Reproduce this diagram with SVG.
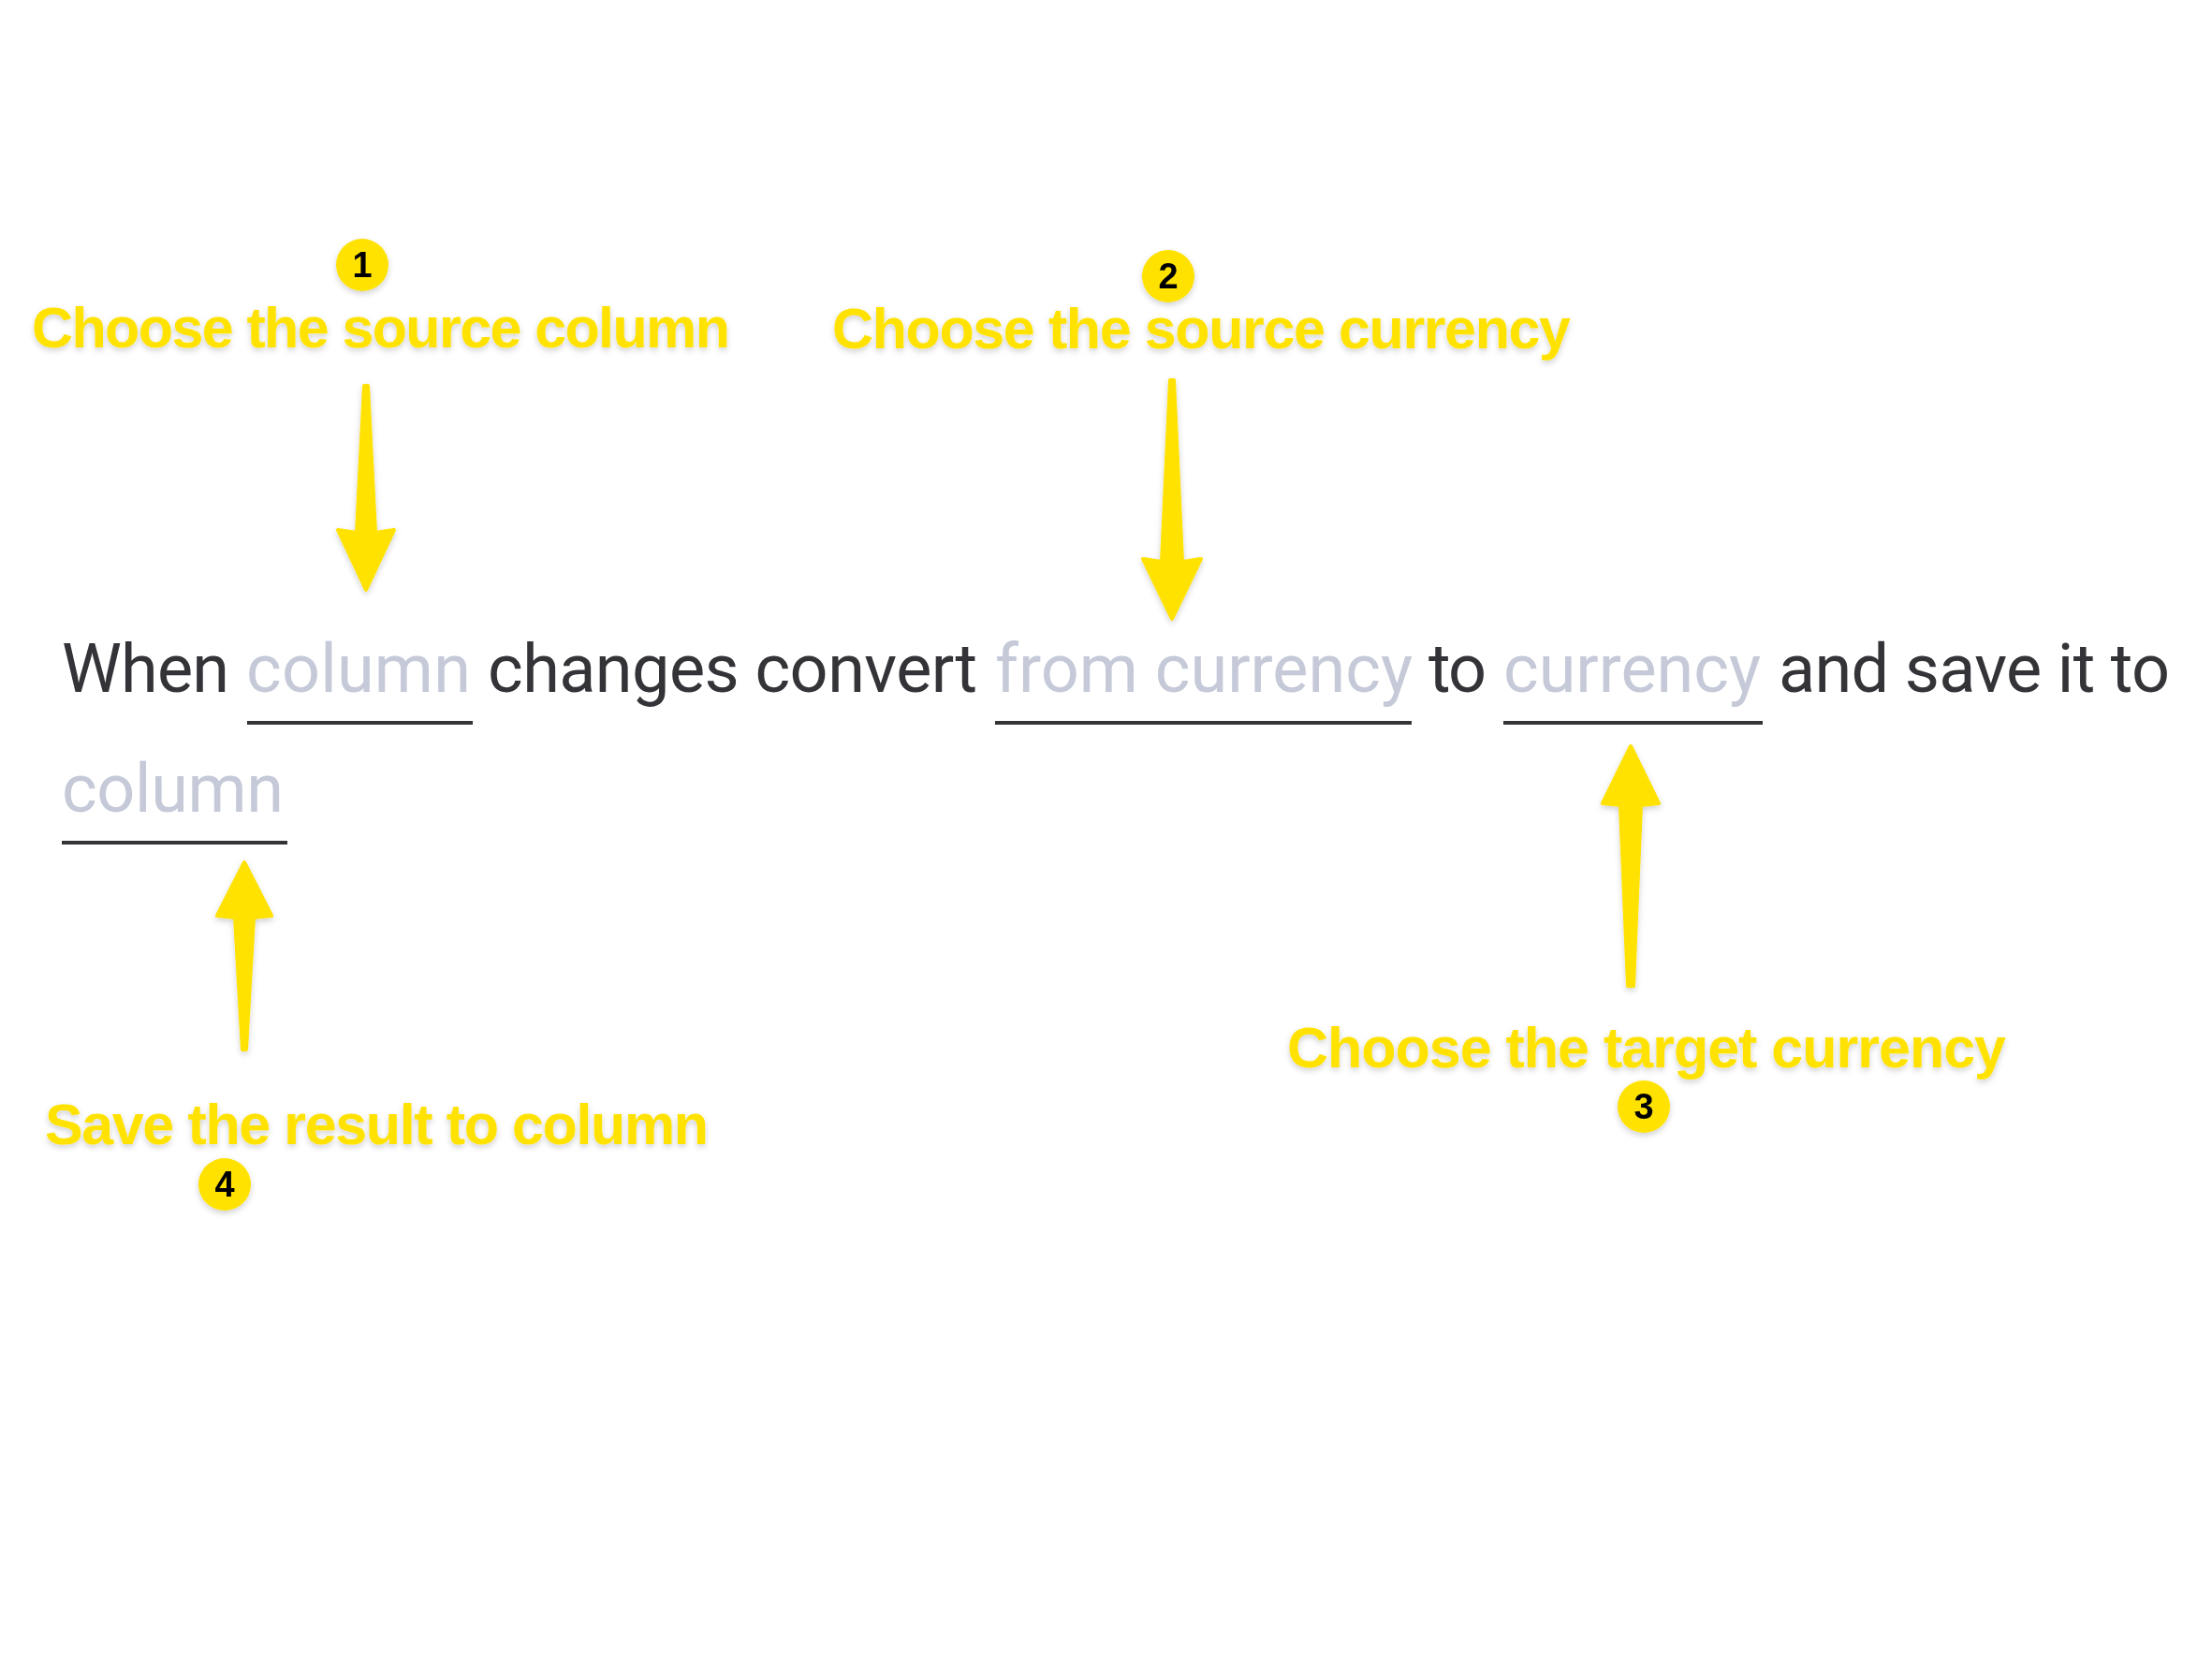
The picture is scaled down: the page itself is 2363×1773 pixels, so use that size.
<svg xmlns="http://www.w3.org/2000/svg" width="2363" height="1773" viewBox="0 0 2363 1773">
  <style>
    .txt { font-family: Roboto, "Noto Sans", "DejaVu Sans", sans-serif; font-size: 72px; font-weight: 400; }
    .dark { fill: #333338; }
    .ph { fill: #C5C9D8; }
    .uline { fill: #333338; }
    .label { font-family: "Liberation Sans", Arial, sans-serif; font-size: 61px; font-weight: 700; fill: #FFE200; }
    .badge { fill: #FFE200; }
    .num { font-family: "Liberation Sans", Arial, sans-serif; font-size: 38px; font-weight: 700; fill: #000000; text-anchor: middle; }
    .arrow { fill: #FFE200; stroke: #FFE200; stroke-width: 4; stroke-linejoin: round; }
  </style>
  <defs>
    <filter id="shadow" x="-10%" y="-10%" width="120%" height="130%">
      <feDropShadow dx="0" dy="3" stdDeviation="3" flood-color="#000000" flood-opacity="0.18"/>
    </filter>
  </defs>
  <rect x="0" y="0" width="2363" height="1773" fill="#FFFFFF"/>

  <g id="sentence">
    <text class="txt dark" x="66" y="739" textLength="179" lengthAdjust="spacing">When</text>
    <text class="txt ph" x="263" y="739" textLength="240" lengthAdjust="spacing">column</text>
    <rect class="uline" x="264" y="770" width="241" height="4"/>
    <text class="txt dark" x="521" y="739" textLength="523" lengthAdjust="spacing">changes convert</text>
    <text class="txt ph" x="1063" y="739" textLength="446" lengthAdjust="spacing">from currency</text>
    <rect class="uline" x="1063" y="770" width="445" height="4"/>
    <text class="txt dark" x="1526" y="739" textLength="62" lengthAdjust="spacing">to</text>
    <text class="txt ph" x="1606" y="739" textLength="275" lengthAdjust="spacing">currency</text>
    <rect class="uline" x="1606" y="770" width="277" height="4"/>
    <text class="txt dark" x="1900" y="739" textLength="418" lengthAdjust="spacing">and save it to</text>
    <text class="txt ph" x="66" y="867" textLength="237" lengthAdjust="spacing">column</text>
    <rect class="uline" x="66" y="898" width="241" height="4"/>
  </g>

  <g id="callout1" filter="url(#shadow)">
    <circle class="badge" cx="387" cy="283" r="28"/>
    <text class="num" x="387" y="296">1</text>
    <text class="label" x="34" y="371" textLength="746" lengthAdjust="spacing">Choose the source column</text>
  </g>

  <g id="callout2" filter="url(#shadow)">
    <circle class="badge" cx="1248" cy="295" r="28"/>
    <text class="num" x="1248" y="308">2</text>
    <text class="label" x="889" y="372" textLength="789" lengthAdjust="spacing">Choose the source currency</text>
  </g>

  <g id="callout3" filter="url(#shadow)">
    <text class="label" x="1375" y="1140" textLength="768" lengthAdjust="spacing">Choose the target currency</text>
    <circle class="badge" cx="1756" cy="1182" r="28"/>
    <text class="num" x="1756" y="1195">3</text>
  </g>

  <g id="callout4" filter="url(#shadow)">
    <text class="label" x="48" y="1222" textLength="709" lengthAdjust="spacing">Save the result to column</text>
    <circle class="badge" cx="240" cy="1265" r="28"/>
    <text class="num" x="240" y="1278">4</text>
  </g>

  <g id="connectors" filter="url(#shadow)">
    <polygon class="arrow" points="389,412 393,412 401,569 421,566 391,630 361,566 381,569"/>
    <polygon class="arrow" points="1250,406 1254,406 1263,600 1283,597 1252,661 1221,597 1241,600"/>
    <polygon class="arrow" points="1742,797 1772,858 1753,860 1745,1053 1739,1053 1731,860 1712,858"/>
    <polygon class="arrow" points="261,921 290,978 271,980 263,1121 259,1121 251,980 232,978"/>
  </g>
</svg>
